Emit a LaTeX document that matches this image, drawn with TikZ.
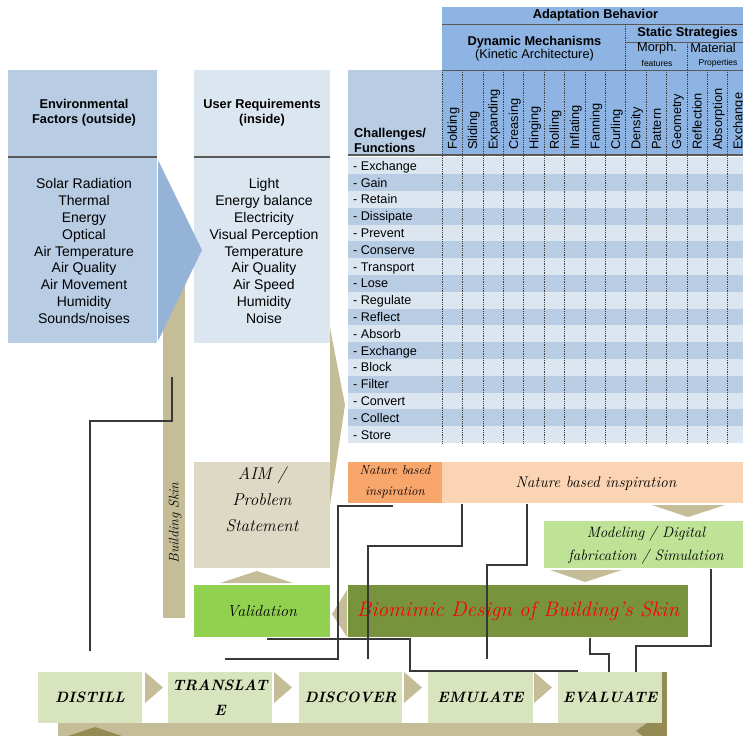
\documentclass[tikz,border=0pt]{standalone}
\usepackage{fontspec}
\newfontfamily\arial{Liberation Sans}
\usetikzlibrary{fit}
\definecolor{envblue}{HTML}{B8CCE4}
\definecolor{userblue}{HTML}{DCE6F1}
\definecolor{arrowblue}{HTML}{95B3D7}
\definecolor{hdrblue}{HTML}{8DB4E2}
\definecolor{rowlight}{HTML}{DCE6F1}
\definecolor{rowdark}{HTML}{B8CCE4}
\definecolor{tanc}{HTML}{C4BD97}
\definecolor{tanlight}{HTML}{DDD9C4}
\definecolor{valgreen}{HTML}{92D050}
\definecolor{olivec}{HTML}{77933C}
\definecolor{natorange}{HTML}{F8A66C}
\definecolor{natpeach}{HTML}{FBD4B4}
\definecolor{modgreen}{HTML}{BEE396}
\definecolor{stepgreen}{HTML}{D7E4BD}
\definecolor{darkolive}{HTML}{948A54}
\definecolor{linec}{HTML}{383838}
\definecolor{divc}{HTML}{595959}
\begin{document}
\begin{tikzpicture}[x=1pt,y=-1pt,
  area/.style={fit={#1}, inner sep=0pt, outer sep=0pt, rectangle},
  hdrtxt/.style={font=\arial\bfseries\fontsize{12.8}{15}\selectfont, align=center, inner sep=0pt},
  listtxt/.style={font=\arial\fontsize{14}{16.85}\selectfont, align=center, inner sep=0pt},
  rowtxt/.style={font=\arial\fontsize{12.6}{14}\selectfont, inner sep=0pt, anchor=base west},
  coltxt/.style={font=\arial\fontsize{12.8}{14}\selectfont, inner sep=0pt, anchor=base west, rotate=90},
  handtxt/.style={font=\itshape\fontsize{16}{26}\selectfont, align=center, inner sep=0pt, text=black},
  steptxt/.style={font=\bfseries\itshape\fontsize{15}{25}\selectfont, align=center, inner sep=0pt},
  conn/.style={draw=linec, line width=1.1pt},
  hline/.style={draw=divc, line width=0.8pt},
  divider/.style={draw=divc, line width=1.6pt},
  dotsep/.style={draw=black!75, line width=0.6pt, dash pattern=on 0.9pt off 0.9pt},
]
\useasboundingbox (0,0) rectangle (743,735);
\fill[white] (0,0) rectangle (743,735);

% ---------- table header ----------
\node[area={(442,7)(743,24)}, fill=hdrblue] (adapt) {};
\node[area={(442,24)(743,70)}, fill=hdrblue] (row2) {};
\node[area={(348,70)(442,155)}, fill=envblue] (chall) {};
\node[area={(442,70)(743,155)}, fill=hdrblue] (row3) {};

% ---------- table rows ----------
\foreach \i in {0,...,16}{
  \pgfmathsetmacro{\ya}{157.4+\i*16.8}
  \pgfmathsetmacro{\yb}{\ya+16.8}
  \ifodd\i \def\rc{rowdark}\else\def\rc{rowlight}\fi
  \node[area={(348,\ya)(743,\yb)}, fill=\rc] (row\i) {};
}

\draw[hline] (442,24) -- (743,24);
\draw[hline] (626,42) -- (743,42);
\draw[hline] (442,70) -- (743,70);
\foreach \i in {0,...,14}
  \draw[dotsep] ({442+\i*20.4},70) -- ({442+\i*20.4},443);
\draw[dotsep] (625.6,24) -- (625.6,70);
\draw[dotsep] (686.8,42) -- (686.8,70);
\draw[line width=2pt, draw=divc] (348,155.5) -- (743,155.5);

\node[hdrtxt] (adapttxt) at (595.5,15.5) {Adaptation Behavior};
\node[hdrtxt, font=\arial\bfseries\fontsize{12.8}{13}\selectfont] (dyn) at (534.5,49)
  {Dynamic Mechanisms\\{\mdseries (Kinetic Architecture)}};
\node[hdrtxt] (stat) at (687.5,33) {Static Strategies};
\node[inner sep=0pt, font=\arial\fontsize{12.8}{14}\selectfont] (morph) at (657,48) {Morph.};
\node[inner sep=0pt, font=\arial\fontsize{8.5}{9}\selectfont] (feat) at (657,63) {features};
\node[inner sep=0pt, font=\arial\fontsize{12.8}{14}\selectfont] (mat) at (713,48) {Material};
\node[inner sep=0pt, font=\arial\fontsize{8.5}{9}\selectfont] (prop) at (718,63) {Properties};
\node[hdrtxt, align=left, anchor=south west] (challtxt) at (354,153) {Challenges/\\Functions};

\foreach \lab [count=\i from 0] in {Folding,Sliding,Expanding,Creasing,Hinging,Rolling,Inflating,Fanning,Curling,Density,Pattern,Geometry,Reflection,Absorption,Exchange}
  \node[coltxt] (col\i) at ({456.8+\i*20.4},150) {\lab};

\foreach \lab [count=\i from 0] in {Exchange,Gain,Retain,Dissipate,Prevent,Conserve,Transport,Lose,Regulate,Reflect,Absorb,Exchange,Block,Filter,Convert,Collect,Store}
  \node[rowtxt] (rl\i) at (353,{170.3+\i*16.8}) {- \lab};

% ---------- left columns ----------
\node[area={(163,250)(185,618)}, fill=tanc] (skin) {};
\fill[tanc] (330,328) -- (345,405) -- (330,505) -- cycle;

\node[area={(8,70)(157,343)}, fill=envblue] (env) {};
\draw[divider] (8,157) -- (157,157);
\node[hdrtxt] (envh) at (84,113) {Environmental\\Factors (outside)};
\node[listtxt] (envl) at (84,251) {Solar Radiation\\Thermal\\Energy\\Optical\\Air Temperature\\Air Quality\\Air Movement\\Humidity\\Sounds/noises};

\node[area={(194,70)(330,343)}, fill=userblue] (user) {};
\draw[divider] (194,157) -- (330,157);
\node[hdrtxt] (userh) at (262,113) {User Requirements\\(inside)};
\node[listtxt] (userl) at (264,251) {Light\\Energy balance\\Electricity\\Visual Perception\\Temperature\\Air Quality\\Air Speed\\Humidity\\Noise};

\fill[arrowblue] (158,160) -- (202,250) -- (158,341) -- cycle;
\node[rotate=90, inner sep=0pt, font=\itshape\fontsize{14}{14}\selectfont] (skintxt) at (175,523) {Building Skin};

% ---------- design loop ----------
\node[area={(194,462)(330,568)}, fill=tanlight] (aim) {};
\node[handtxt, font=\itshape\fontsize{17}{26}\selectfont] (aimtxt) at (262,499) {AIM /\\Problem\\Statement};
\fill[tanc] (220,583) -- (257,571) -- (293,583) -- cycle;
\node[area={(194,585)(330,637)}, fill=valgreen] (val) {};
\node[handtxt] (valtxt) at (262,611) {Validation};
\fill[tanc] (347,590) -- (332,614) -- (347,637) -- cycle;
\node[area={(348,585)(688,637)}, fill=olivec] (bio) {};
\node[handtxt, text=red, font=\itshape\fontsize{21}{24}\selectfont] (biotxt) at (518,611) {Biomimic Design of Building's Skin};

\node[area={(348,462)(442,503)}, fill=natorange] (nat1) {};
\node[handtxt, font=\itshape\fontsize{13}{21}\selectfont] (nat1txt) at (395,482) {Nature based\\inspiration};
\node[area={(442,462)(743,503)}, fill=natpeach] (nat2) {};
\node[handtxt, font=\itshape\fontsize{15.5}{18}\selectfont] (nat2txt) at (596,484) {Nature based inspiration};
\fill[tanc] (652,505) -- (725,505) -- (688,517) -- cycle;
\node[area={(544,521)(743,568)}, fill=modgreen] (mod) {};
\node[handtxt, font=\itshape\fontsize{15}{23}\selectfont] (modtxt) at (646,545) {Modeling / Digital\\fabrication / Simulation};
\fill[tanc] (550,570) -- (622,570) -- (585,582) -- cycle;

% ---------- steps ----------
\fill[tanc] (58,723) rectangle (662,740);
\fill[darkolive] (662,672) rectangle (667,740);
\fill[darkolive] (662,723) -- (647,723) -- (636,731) -- (647,739) -- (662,739) -- cycle;
\fill[darkolive] (68,736) -- (95,727) -- (122,736) -- cycle;

\node[area={(38,672)(142,723)}, fill=stepgreen] (distill) {};
\node[area={(168,672)(272,723)}, fill=stepgreen] (translate) {};
\node[area={(299,672)(402,723)}, fill=stepgreen] (discover) {};
\node[area={(428,672)(533,723)}, fill=stepgreen] (emulate) {};
\node[area={(558,672)(662,723)}, fill=stepgreen] (evaluate) {};
\foreach \x in {145,274,404,534}
  \fill[tanc] (\x,672) -- ({\x+18},687.5) -- (\x,703) -- cycle;
\node[steptxt] (distilltxt) at (distill.center) {DISTILL};
\node[steptxt] (translatetxt) at (220,697.5) {TRANSLAT\\E};
\node[steptxt] (discovertxt) at (discover.center) {DISCOVER};
\node[steptxt] (emulatetxt) at (emulate.center) {EMULATE};
\node[steptxt] (evaluatetxt) at (evaluate.center) {EVALUATE};

% ---------- connectors ----------
\coordinate (a0) at (393,506); \coordinate (a1) at (225,659);
\draw[conn] (a0) -| (338,659) -- (a1);
\coordinate (b0) at (462,503.5); \coordinate (b1) at (368,659);
\draw[conn] (b0) -- (462,546) -| (b1);
\coordinate (c0) at (527,503.5); \coordinate (c1) at (487,659);
\draw[conn] (c0) -- (527,565) -| (c1);
\coordinate (d0) at (711,568.5); \coordinate (d1) at (636,672);
\draw[conn] (d0) -- (711,646) -| (d1);
\coordinate (e0) at (590,637.5); \coordinate (e1) at (609,672);
\draw[conn] (e0) -- (590,654) -| (e1);
\coordinate (f0) at (267,639); \coordinate (f1) at (578,671);
\draw[conn] (f0) -| (410,671) -- (f1);
\coordinate (g0) at (172,377); \coordinate (g1) at (90,651);
\draw[conn] (g0) -- (172,421) -| (g1);
\end{tikzpicture}
\end{document}
